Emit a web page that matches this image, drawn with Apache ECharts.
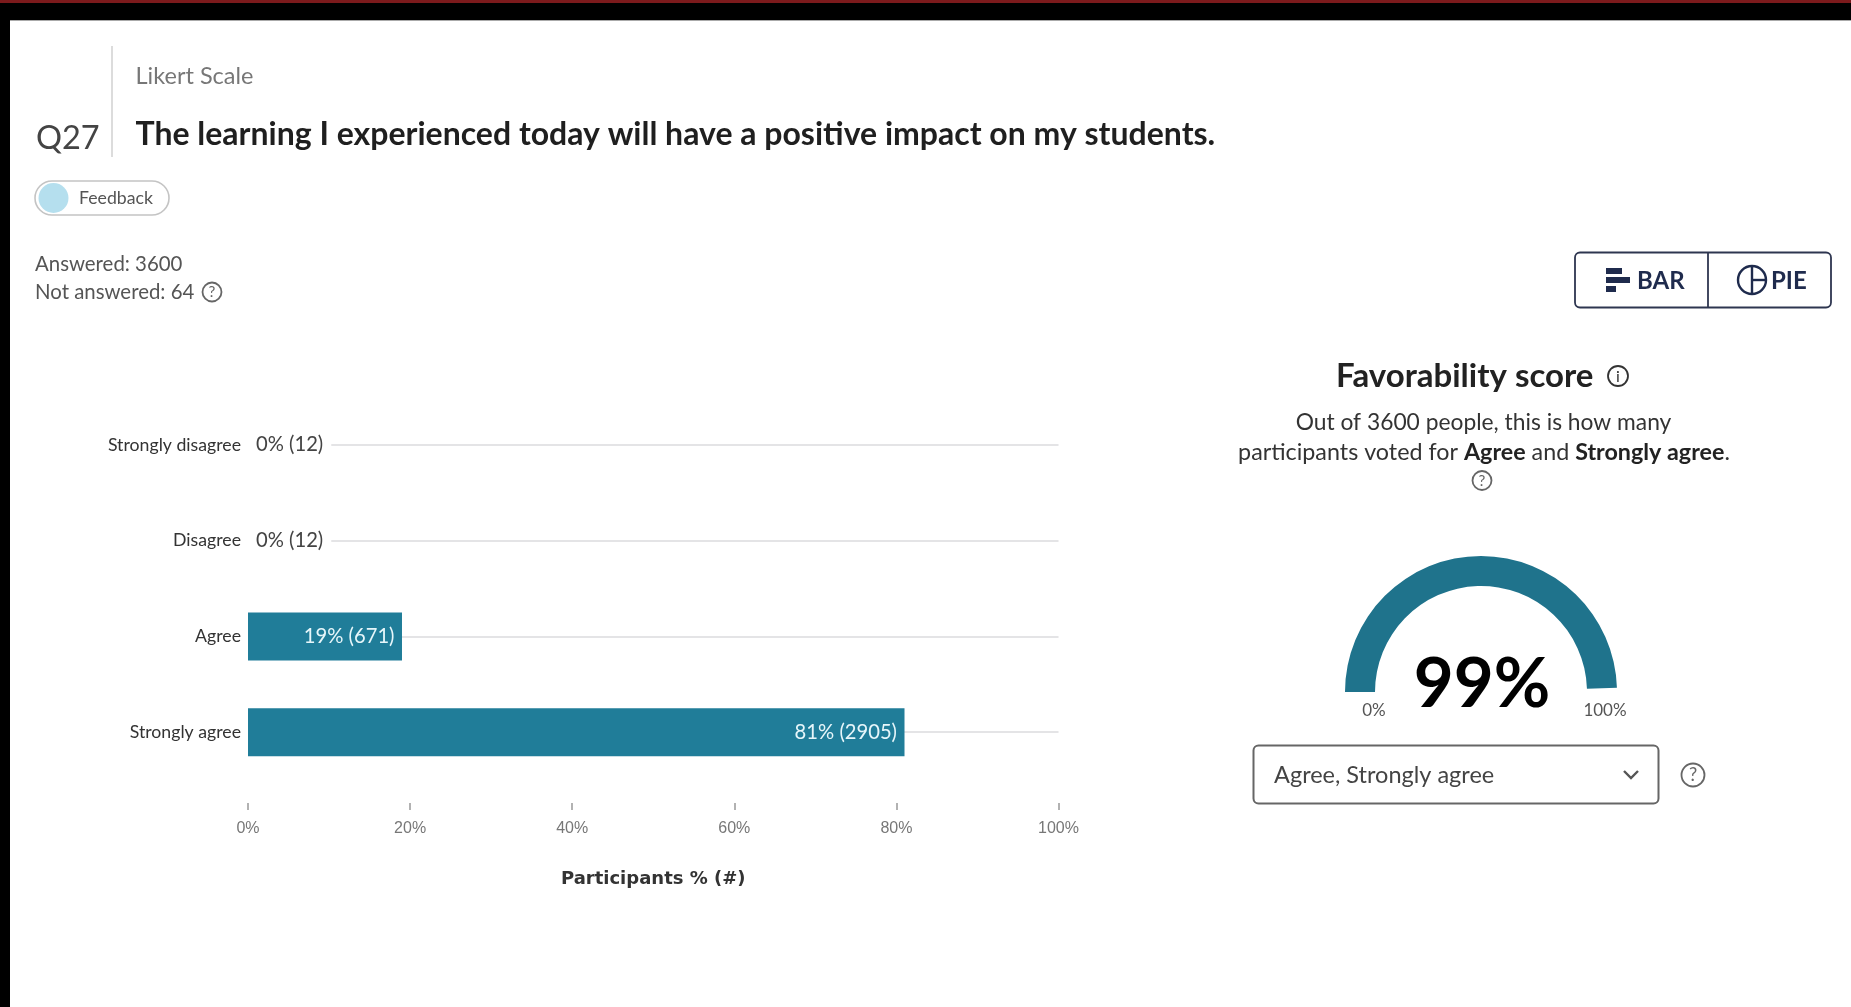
<!DOCTYPE html>
<html>
<head>
<meta charset="utf-8">
<title>Q27 Likert results</title>
<script src="https://cdn.jsdelivr.net/npm/echarts@6/dist/echarts.min.js"></script>
<style>
  html, body { margin: 0; padding: 0; background: #fff; }
  #chart { width: 1851px; height: 1007px; }
</style>
</head>
<body>
<div id="chart"></div>
<script>
// Survey responses
const categories = ['Strongly disagree', 'Disagree', 'Agree', 'Strongly agree'];
const percentValues = [0, 0, 19, 81];
const countValues = [12, 12, 671, 2905];
const favorabilityScore = 99;
const answeredCount = 3600;
const notAnsweredCount = 64;
const questionTitle = 'The learning I experienced today will have a positive impact on my students.';

const TEAL = '#207d99';
const GAUGE_TEAL = '#1f738c';
const NAVY = '#1f2b4d';
const FONT = 'Lato, "Noto Sans", sans-serif';

function label(x, y, text, size, color, extra) {
  return {
    type: 'text', x, y,
    style: Object.assign({
      text, fontFamily: FONT, fontSize: size, fill: color,
      textAlign: 'left', textVerticalAlign: 'middle'
    }, extra || {})
  };
}

// Small circled glyph used for the help and info hints
function hintIcon(x, y, r, glyph, color) {
  const ink = color || '#666';
  return [
    { type: 'circle', shape: { cx: x, cy: y, r }, style: { fill: '#fff', stroke: ink, lineWidth: 1.8 } },
    label(x, y + 0.5, glyph, r * 1.6, ink, { textAlign: 'center' })
  ];
}

const chrome = [
  // Page frame
  { type: 'rect', z: -2, shape: { x: 0, y: 0, width: 1851, height: 20 }, style: { fill: '#000' } },
  { type: 'rect', z: -1, shape: { x: 0, y: 0, width: 1851, height: 3 }, style: { fill: '#7c1a1c' } },
  { type: 'rect', z: -2, shape: { x: 0, y: 0, width: 10, height: 1007 }, style: { fill: '#000' } },
  { type: 'rect', z: -2, shape: { x: 10, y: 20, width: 1841, height: 1 }, style: { fill: '#aaa' } },

  // Question header
  { type: 'line', shape: { x1: 112, y1: 46, x2: 112, y2: 157 }, style: { stroke: '#dcdcdc', lineWidth: 2 } },
  label(135.5, 76.5, 'Likert Scale', 23.5, '#777'),
  label(36, 139, 'Q27', 32.5, '#444'),
  label(135.5, 135, questionTitle, 32, '#1f1f1f', { fontWeight: 'bold' }),

  // Feedback tag
  { type: 'rect', shape: { x: 35, y: 181, width: 134, height: 34, r: 17 }, style: { fill: '#fff', stroke: '#c4c4c4', lineWidth: 1.6 } },
  { type: 'circle', shape: { cx: 53.5, cy: 198, r: 15 }, style: { fill: '#b5dfee' } },
  label(79, 198, 'Feedback', 17.7, '#555'),

  // Response counts
  label(35, 264, 'Answered: ' + answeredCount, 20.4, '#555'),
  label(35, 292, 'Not answered: ' + notAnsweredCount, 20.4, '#555'),
  ...hintIcon(212, 292, 9.5, '?'),

  // Bar / pie switch
  { type: 'rect', shape: { x: 1575, y: 252.5, width: 256, height: 55, r: 5 }, style: { fill: '#fff', stroke: '#2e3650', lineWidth: 1.8 } },
  { type: 'line', shape: { x1: 1708, y1: 253, x2: 1708, y2: 307 }, style: { stroke: '#2e3650', lineWidth: 1.8 } },
  { type: 'rect', shape: { x: 1606, y: 268, width: 16, height: 6 }, style: { fill: NAVY } },
  { type: 'rect', shape: { x: 1606, y: 277, width: 24, height: 6 }, style: { fill: NAVY } },
  { type: 'rect', shape: { x: 1606, y: 286, width: 10, height: 6 }, style: { fill: NAVY } },
  label(1637, 281.5, 'BAR', 24, NAVY, { fontWeight: 'bold' }),
  { type: 'circle', shape: { cx: 1752, cy: 280, r: 14 }, style: { fill: 'none', stroke: NAVY, lineWidth: 2.4 } },
  { type: 'line', shape: { x1: 1752, y1: 266, x2: 1752, y2: 294 }, style: { stroke: NAVY, lineWidth: 2.4 } },
  { type: 'line', shape: { x1: 1752, y1: 280, x2: 1766, y2: 280 }, style: { stroke: NAVY, lineWidth: 2.4 } },
  label(1771, 281.5, 'PIE', 24, NAVY, { fontWeight: 'bold' }),

  // Favorability panel
  label(1336, 376, 'Favorability score', 33, '#222', { fontWeight: 'bold' }),
  ...hintIcon(1618, 376, 10, 'i', '#333'),
  label(1483.5, 422.5, 'Out of ' + answeredCount + ' people, this is how many', 22.8, '#333', { textAlign: 'center' }),
  {
    type: 'text', x: 1484, y: 452.5,
    style: {
      text: 'participants voted for {b|Agree} and {b|Strongly agree}.',
      fontFamily: FONT, fontSize: 23.3, fill: '#333',
      textAlign: 'center', textVerticalAlign: 'middle',
      rich: { b: { fontFamily: FONT, fontSize: 23.3, fontWeight: 'bold', fill: '#222' } }
    }
  },
  ...hintIcon(1482, 480.5, 9.5, '?'),
  label(1374, 711, '0%', 17, '#555', { textAlign: 'center' }),
  label(1605, 711, '100%', 17, '#555', { textAlign: 'center' }),

  // Response selector
  { type: 'rect', shape: { x: 1253.5, y: 745.5, width: 405, height: 58, r: 5 }, style: { fill: '#fff', stroke: '#666', lineWidth: 2 } },
  label(1274, 775, 'Agree, Strongly agree', 23.5, '#444'),
  { type: 'polyline', shape: { points: [[1624, 771], [1631, 778], [1638, 771]] }, style: { fill: 'none', stroke: '#555', lineWidth: 2.4 } },
  ...hintIcon(1693, 775, 11.5, '?')
];

const chart = echarts.init(document.getElementById('chart'), null, { renderer: 'canvas' });

chart.setOption({
  animation: false,
  backgroundColor: '#fff',
  graphic: { elements: chrome },
  grid: { left: 248, right: 792.5, top: 397, height: 383, containLabel: false },
  xAxis: {
    type: 'value',
    min: 0,
    max: 100,
    interval: 20,
    offset: 23,
    axisLine: { show: false },
    axisTick: { show: true, length: 7, lineStyle: { color: '#999', width: 1.5 } },
    splitLine: { show: false },
    axisLabel: {
      formatter: '{value}%', margin: 18,
      fontFamily: '"Liberation Sans", Arial, sans-serif', fontSize: 16, color: '#777'
    },
    name: 'Participants % (#)',
    nameLocation: 'middle',
    nameGap: 67,
    nameTextStyle: { fontFamily: '"DejaVu Sans", sans-serif', fontWeight: 'bold', fontSize: 18, color: '#333' }
  },
  yAxis: {
    type: 'category',
    inverse: true,
    data: categories,
    axisLine: { show: false },
    axisTick: { show: false },
    axisLabel: { margin: 7, padding: [4, 0, 0, 0], fontFamily: FONT, fontSize: 17.7, color: '#333' }
  },
  series: [
    {
      type: 'bar',
      barWidth: 48,
      itemStyle: { color: TEAL },
      z: 2,
      data: percentValues.map((value) => ({
        value,
        label: value === 0
          ? {
              position: 'right', distance: 0, color: '#444',
              backgroundColor: '#fff', padding: [6, 8, 2, 8]
            }
          : { position: 'insideRight', distance: 7.5, padding: [3, 0, 0, 0], color: '#e6f6fa' }
      })),
      label: {
        show: true,
        fontFamily: FONT,
        fontSize: 20.2,
        formatter: p => percentValues[p.dataIndex] + '% (' + countValues[p.dataIndex] + ')'
      },
      // Light guide running the full width behind each row
      markLine: {
        silent: true,
        z: 1,
        symbol: 'none',
        label: { show: false },
        lineStyle: { color: '#e4e4e6', width: 2, type: 'solid' },
        data: categories.map(c => [{ xAxis: 0, yAxis: c }, { xAxis: 100, yAxis: c }])
      }
    },
    {
      type: 'gauge',
      center: [1481, 692],
      radius: 136,
      startAngle: 180,
      endAngle: 0,
      min: 0,
      max: 100,
      pointer: { show: false },
      axisLine: { show: false },
      axisTick: { show: false },
      splitLine: { show: false },
      axisLabel: { show: false },
      progress: { show: true, width: 30, roundCap: false, itemStyle: { color: GAUGE_TEAL } },
      title: { show: false },
      detail: {
        offsetCenter: [1, -7],
        fontFamily: FONT,
        fontSize: 69,
        fontWeight: 'bold',
        color: '#000',
        formatter: '{value}%'
      },
      data: [{ value: favorabilityScore }]
    }
  ]
});
</script>
</body>
</html>
